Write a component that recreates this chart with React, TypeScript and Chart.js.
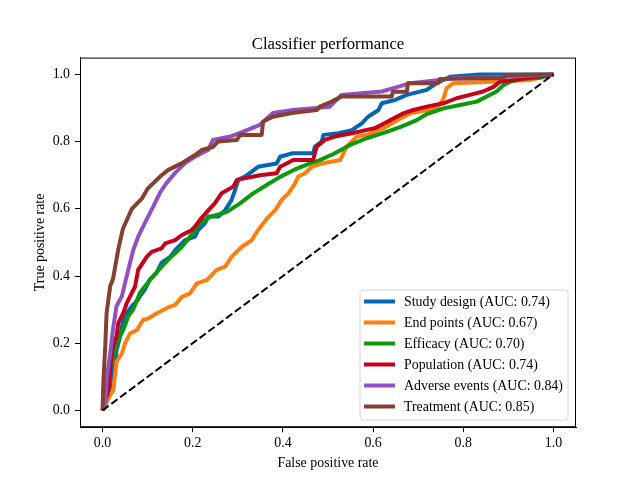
import React, { useEffect, useRef } from "react";
import { Chart, registerables } from "chart.js";

Chart.register(...registerables);

const TITLE = "Classifier performance";
const X_LABEL = "False positive rate";
const Y_LABEL = "True positive rate";
const X_TICKS = [0, 0.2, 0.4, 0.6, 0.8, 1.0];
const Y_TICKS = [0, 0.2, 0.4, 0.6, 0.8, 1.0];

const SERIES_NAMES = [
  "Study design",
  "End points",
  "Efficacy",
  "Population",
  "Adverse events",
  "Treatment",
];
const SERIES_AUC = [0.74, 0.67, 0.7, 0.74, 0.84, 0.85];
const SERIES_COLORS = ["#0466b2", "#ff7f0e", "#0c9a0c", "#c4001c", "#9150c4", "#86402f"];

// ROC points as [false positive rate, true positive rate]
const STUDY_DESIGN: [number, number][] = [
  [0, 0], [0.009, 0.04], [0.012, 0.046], [0.017, 0.07], [0.02, 0.11], [0.028, 0.14], [0.031, 0.18],
  [0.039, 0.22], [0.046, 0.27], [0.054, 0.29], [0.065, 0.31], [0.079, 0.33], [0.083, 0.34],
  [0.094, 0.36], [0.105, 0.39], [0.12, 0.41], [0.131, 0.44], [0.15, 0.457], [0.161, 0.477],
  [0.183, 0.507], [0.205, 0.517], [0.212, 0.537], [0.227, 0.557], [0.235, 0.577], [0.257, 0.577],
  [0.272, 0.596], [0.286, 0.626], [0.294, 0.656], [0.301, 0.686], [0.316, 0.696], [0.345, 0.725],
  [0.386, 0.735], [0.394, 0.755], [0.42, 0.765], [0.467, 0.765], [0.471, 0.785], [0.486, 0.8],
  [0.49, 0.82], [0.523, 0.825], [0.553, 0.834], [0.575, 0.854], [0.589, 0.874], [0.612, 0.894],
  [0.619, 0.914], [0.649, 0.924], [0.675, 0.939], [0.719, 0.954], [0.741, 0.974], [0.771, 0.993],
  [0.837, 1], [1, 1],
];

const END_POINTS: [number, number][] = [
  [0, 0], [0.006, 0.016], [0.017, 0.046], [0.024, 0.06], [0.031, 0.145], [0.043, 0.17], [0.05, 0.2],
  [0.061, 0.229], [0.076, 0.239], [0.09, 0.269], [0.102, 0.274], [0.12, 0.289], [0.15, 0.309],
  [0.161, 0.314], [0.176, 0.338], [0.194, 0.348], [0.209, 0.378], [0.231, 0.388], [0.253, 0.418],
  [0.272, 0.428], [0.286, 0.457], [0.309, 0.487], [0.331, 0.507], [0.345, 0.537], [0.368, 0.576],
  [0.383, 0.596], [0.397, 0.626], [0.412, 0.646], [0.427, 0.676], [0.434, 0.696], [0.449, 0.706],
  [0.464, 0.725], [0.486, 0.735], [0.527, 0.745], [0.541, 0.785], [0.564, 0.815], [0.586, 0.82],
  [0.623, 0.84], [0.66, 0.869], [0.682, 0.884], [0.741, 0.899], [0.756, 0.927], [0.763, 0.959],
  [0.778, 0.974], [0.859, 0.978], [0.948, 0.983], [1, 1],
];

const EFFICACY: [number, number][] = [
  [0, 0], [0.009, 0.06], [0.017, 0.13], [0.024, 0.16], [0.031, 0.2], [0.046, 0.24], [0.057, 0.28],
  [0.068, 0.3], [0.083, 0.35], [0.105, 0.388], [0.131, 0.428], [0.15, 0.454], [0.176, 0.487],
  [0.194, 0.517], [0.216, 0.557], [0.238, 0.576], [0.275, 0.59], [0.305, 0.616], [0.334, 0.646],
  [0.364, 0.671], [0.394, 0.695], [0.423, 0.715], [0.46, 0.735], [0.482, 0.745], [0.512, 0.763],
  [0.549, 0.79], [0.586, 0.81], [0.63, 0.829], [0.66, 0.843], [0.697, 0.864], [0.719, 0.882],
  [0.756, 0.899], [0.793, 0.909], [0.83, 0.919], [0.852, 0.934], [0.874, 0.949], [0.889, 0.968],
  [0.904, 0.978], [0.933, 0.988], [0.97, 0.99], [1, 1],
];

const POPULATION: [number, number][] = [
  [0, 0], [0.013, 0.06], [0.017, 0.13], [0.023, 0.19], [0.031, 0.22], [0.035, 0.26], [0.046, 0.29],
  [0.054, 0.32], [0.065, 0.35], [0.072, 0.368], [0.079, 0.418], [0.098, 0.457], [0.109, 0.472],
  [0.131, 0.482], [0.139, 0.497], [0.161, 0.507], [0.176, 0.522], [0.198, 0.537], [0.205, 0.547],
  [0.216, 0.567], [0.235, 0.596], [0.249, 0.616], [0.264, 0.646], [0.29, 0.666], [0.298, 0.686],
  [0.349, 0.7], [0.386, 0.706], [0.394, 0.725], [0.423, 0.745], [0.467, 0.745], [0.475, 0.785],
  [0.493, 0.805], [0.515, 0.815], [0.553, 0.825], [0.604, 0.84], [0.619, 0.85], [0.645, 0.869],
  [0.667, 0.884], [0.689, 0.894], [0.719, 0.904], [0.756, 0.914], [0.785, 0.929], [0.815, 0.939],
  [0.844, 0.949], [0.867, 0.963], [0.881, 0.978], [0.911, 0.983], [0.948, 0.99], [1, 1],
];

const ADVERSE_EVENTS: [number, number][] = [
  [0, 0], [0.006, 0.011], [0.009, 0.09], [0.017, 0.17], [0.023, 0.24], [0.031, 0.31], [0.043, 0.34],
  [0.05, 0.38], [0.057, 0.418], [0.068, 0.477], [0.079, 0.517], [0.094, 0.558], [0.112, 0.606],
  [0.127, 0.647], [0.142, 0.677], [0.161, 0.707], [0.183, 0.736], [0.205, 0.755], [0.234, 0.775],
  [0.245, 0.805], [0.283, 0.815], [0.305, 0.826], [0.349, 0.85], [0.378, 0.885], [0.422, 0.894],
  [0.475, 0.9], [0.504, 0.904], [0.53, 0.939], [0.619, 0.949], [0.655, 0.963], [0.682, 0.974],
  [0.748, 0.983], [0.777, 0.989], [0.896, 0.993], [1, 1],
];

const TREATMENT: [number, number][] = [
  [0, 0], [0.002, 0.09], [0.006, 0.19], [0.009, 0.29], [0.017, 0.37], [0.023, 0.39], [0.035, 0.48],
  [0.045, 0.54], [0.065, 0.6], [0.087, 0.63], [0.1, 0.66], [0.131, 0.7], [0.145, 0.715],
  [0.176, 0.736], [0.205, 0.76], [0.22, 0.775], [0.245, 0.784], [0.256, 0.8], [0.298, 0.805],
  [0.305, 0.82], [0.353, 0.82], [0.356, 0.86], [0.378, 0.874], [0.42, 0.885], [0.475, 0.894],
  [0.482, 0.904], [0.508, 0.919], [0.53, 0.934], [0.641, 0.934], [0.644, 0.948], [0.675, 0.948],
  [0.677, 0.974], [0.744, 0.974], [0.748, 0.986], [0.888, 0.989], [0.896, 0.998], [1, 1],
];

const SERIES_POINTS = [STUDY_DESIGN, END_POINTS, EFFICACY, POPULATION, ADVERSE_EVENTS, TREATMENT];

const CHANCE_X = [0, 1];
const CHANCE_Y = [0, 1];

const FONT = "'Liberation Serif', 'Times New Roman', serif";

const decorPlugin = {
  id: "mplDecor",
  afterDraw(chart: any) {
    const { ctx, chartArea } = chart;
    const { left, right, top, bottom } = chartArea;
    ctx.save();
    // frame
    ctx.strokeStyle = "#000";
    ctx.lineWidth = 1;
    ctx.strokeRect(left + 0.5, top + 0.5, right - left - 1, bottom - top - 1);

    // title
    ctx.fillStyle = "#000";
    ctx.textAlign = "center";
    ctx.textBaseline = "alphabetic";
    ctx.font = `16.7px ${FONT}`;
    ctx.fillText(TITLE, (left + right) / 2, top - 8.5);

    // axis labels
    ctx.font = `13.9px ${FONT}`;
    ctx.textBaseline = "middle";
    ctx.fillText(X_LABEL, (left + right) / 2, 463);
    ctx.save();
    ctx.translate(40, (top + bottom) / 2);
    ctx.rotate(-Math.PI / 2);
    ctx.fillText(Y_LABEL, 0, 0);
    ctx.restore();

    // legend
    const bx0 = 360, by0 = 290, bx1 = 568, by1 = 420;
    ctx.beginPath();
    const r = 3;
    ctx.moveTo(bx0 + r, by0);
    ctx.lineTo(bx1 - r, by0);
    ctx.quadraticCurveTo(bx1, by0, bx1, by0 + r);
    ctx.lineTo(bx1, by1 - r);
    ctx.quadraticCurveTo(bx1, by1, bx1 - r, by1);
    ctx.lineTo(bx0 + r, by1);
    ctx.quadraticCurveTo(bx0, by1, bx0, by1 - r);
    ctx.lineTo(bx0, by0 + r);
    ctx.quadraticCurveTo(bx0, by0, bx0 + r, by0);
    ctx.closePath();
    ctx.fillStyle = "rgba(255,255,255,0.8)";
    ctx.fill();
    ctx.strokeStyle = "#d6d6d6";
    ctx.lineWidth = 1;
    ctx.stroke();

    ctx.textAlign = "left";
    ctx.textBaseline = "middle";
    ctx.font = `13.9px ${FONT}`;
    SERIES_NAMES.forEach((name, i) => {
      const yc = 301.5 + i * 21;
      ctx.strokeStyle = SERIES_COLORS[i];
      ctx.lineWidth = 4;
      ctx.lineCap = "butt";
      ctx.beginPath();
      ctx.moveTo(364, yc);
      ctx.lineTo(395, yc);
      ctx.stroke();
      ctx.fillStyle = "#000";
      ctx.fillText(`${name} (AUC: ${SERIES_AUC[i].toFixed(2)})`, 404, yc + 0.5);
    });
    ctx.restore();
  },
};

export default function App() {
  const ref = useRef<HTMLCanvasElement | null>(null);
  useEffect(() => {
    if (!ref.current) return;
    const n = SERIES_NAMES.length;
    const datasets: any[] = SERIES_NAMES.map((name, i) => ({
      label: name,
      data: SERIES_POINTS[i].map(([x, y]) => ({ x, y })),
      borderColor: SERIES_COLORS[i],
      backgroundColor: SERIES_COLORS[i],
      borderWidth: 4,
      pointRadius: 0,
      showLine: true,
      fill: false,
      tension: 0,
      borderJoinStyle: "round",
      borderCapStyle: "butt",
      order: n - i + 1,
    }));
    datasets.push({
      label: "chance",
      data: CHANCE_X.map((x, i) => ({ x, y: CHANCE_Y[i] })),
      borderColor: "#000",
      backgroundColor: "#000",
      borderWidth: 2,
      borderDash: [7.7, 3.3],
      pointRadius: 0,
      showLine: true,
      fill: false,
      order: 0,
    });

    const tickFont = { family: FONT, size: 13.9 };
    const chart = new Chart(ref.current, {
      type: "scatter",
      data: { datasets },
      options: {
        animation: false,
        responsive: false,
        maintainAspectRatio: false,
        layout: { padding: { top: 57.6, right: 64, left: 0, bottom: 0 } },
        plugins: { legend: { display: false }, tooltip: { enabled: false }, title: { display: false } },
        scales: {
          x: {
            type: "linear",
            min: -0.05,
            max: 1.05,
            afterBuildTicks: (s: any) => {
              s.ticks = X_TICKS.map((v) => ({ value: v }));
            },
            afterFit: (s: any) => {
              s.height = 52.8;
            },
            ticks: {
              callback: (v: any) => Number(v).toFixed(1),
              color: "#000",
              font: tickFont,
              padding: 3,
              maxRotation: 0,
              autoSkip: false,
            },
            grid: { display: true, drawOnChartArea: false, drawTicks: true, tickLength: 5, color: "#000", tickColor: "#000" },
            border: { display: true, color: "#000", width: 1 },
          },
          y: {
            type: "linear",
            min: -0.05,
            max: 1.05,
            afterBuildTicks: (s: any) => {
              s.ticks = Y_TICKS.map((v) => ({ value: v }));
            },
            afterFit: (s: any) => {
              s.width = 80;
            },
            ticks: {
              callback: (v: any) => Number(v).toFixed(1),
              color: "#000",
              font: tickFont,
              padding: 5,
              autoSkip: false,
            },
            grid: { display: true, drawOnChartArea: false, drawTicks: true, tickLength: 5, color: "#000", tickColor: "#000" },
            border: { display: true, color: "#000", width: 1 },
          },
        },
      },
      plugins: [decorPlugin],
    });
    return () => chart.destroy();
  }, []);

  return (
    <div style={{ position: "absolute", left: 0, top: 0, width: 640, height: 480, background: "#fff" }}>
      <canvas ref={ref} width={640} height={480} style={{ width: 640, height: 480, display: "block" }} />
    </div>
  );
}
